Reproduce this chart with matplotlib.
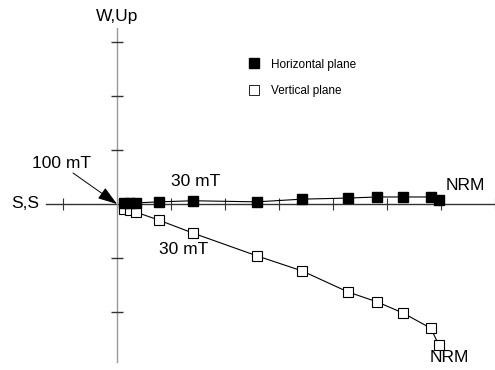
import numpy as np
import matplotlib
matplotlib.use('Agg')
import matplotlib.pyplot as plt

plt.rcParams['font.family'] = ['Liberation Sans', 'DejaVu Sans']

# Zijderveld diagram data (one tick = 1 unit)
east = [0.13, 0.24, 0.35, 0.78, 1.41, 2.59, 3.43, 4.28, 4.81, 5.30, 5.81, 5.96]
horiz_y = [0.02, 0.02, 0.02, 0.04, 0.06, 0.04, 0.09, 0.11, 0.13, 0.13, 0.13, 0.07]
vert_y = [-0.09, -0.11, -0.15, -0.30, -0.54, -0.96, -1.24, -1.63, -1.81, -2.02, -2.30, -2.61]

xticks = [-1, 1, 2, 3, 4, 5, 6, 7]
yticks = [-2, -1, 1, 2, 3]

fig = plt.figure(figsize=(4.95, 3.7), dpi=100)
ax = fig.add_axes([0, 0, 1, 1])
ax.set_xlim(-117 / 54, (495 - 117) / 54)
ax.set_ylim(-(370 - 204) / 54, 204 / 54)
ax.axis('off')

# axes through origin
ax.plot([-1.31, 7.0], [0, 0], color='#333333', lw=1.0, zorder=1)
ax.plot([0, 0], [-2.93, 3.26], color='#999999', lw=1.0, zorder=1)
ax.plot(xticks, [0] * len(xticks), ls='none', marker='|', ms=8, mew=0.8, color='#333333', zorder=1)
ax.plot([0] * len(yticks), yticks, ls='none', marker='_', ms=9, mew=1.0, color='#333333', zorder=1)

ax.plot(east, horiz_y, color='black', lw=0.8, marker='s', ms=7, mfc='black', mec='black',
        label='Horizontal plane', zorder=3)
ax.plot(east, vert_y, color='black', lw=0.8, marker='s', ms=6.5, mfc='white', mec='black',
        mew=0.8, label='Vertical plane', zorder=2)

# legend
h, l = ax.get_legend_handles_labels()
h = [plt.Line2D([], [], ls='none', marker='s', ms=7, mfc='black', mec='black'),
     plt.Line2D([], [], ls='none', marker='s', ms=7, mfc='white', mec='black', mew=0.6)]
ax.legend(h, l, loc='upper left', bbox_to_anchor=(237 / 495, 1 - 48 / 370), frameon=False,
          fontsize=8.5, handlelength=1.0, handletextpad=1.0, labelspacing=1.25)

fs = 12.5
ax.text(0, 3.33, 'W,Up', ha='center', va='bottom', fontsize=fs)
ax.text(-1.45, 0, 'S,S', ha='right', va='center', fontsize=fs)
ax.text((62 - 117) / 54, (204 - 163) / 54, '100 mT', ha='center', va='center', fontsize=fs)
ax.annotate('', xy=(0, 0), xytext=((73 - 117) / 54, (204 - 173) / 54),
            arrowprops=dict(arrowstyle='-|>,head_length=1.2,head_width=0.4', color='black',
                            lw=0.7, shrinkA=0, shrinkB=0))
ax.text((196 - 117) / 54, (204 - 181) / 54, '30 mT', ha='center', va='center', fontsize=fs)
ax.text((184 - 117) / 54, (204 - 249) / 54, '30 mT', ha='center', va='center', fontsize=fs)
ax.text((465 - 117) / 54, (204 - 186) / 54, 'NRM', ha='center', va='center', fontsize=fs)
ax.text((449 - 117) / 54, (204 - 357) / 54, 'NRM', ha='center', va='center', fontsize=fs)

fig.savefig('out.png', dpi=100)
